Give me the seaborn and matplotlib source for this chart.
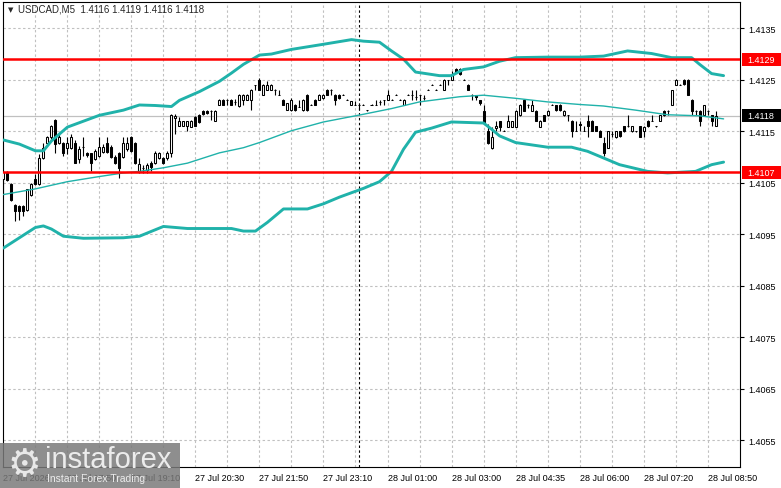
import numpy as np
import matplotlib
matplotlib.use("Agg")
import matplotlib.pyplot as plt
import matplotlib.transforms as mtransforms
from matplotlib.patches import Rectangle
import seaborn as sns

# USDCAD M5 candles, values in pips above BASE
BASE = 1.4100

opens = [5.8, 7.0, 4.7, 0.6, 0.5, 0.5, -0.4, 2.7, 5.8, 4.8,
         9.8, 12.8, 13.8, 17.1, 12.8, 12.8, 11.8, 11.8, 12.8, 9.7,
         12.0, 10.8, 10.8, 9.7, 10.2, 11.0, 12.8, 12.0, 10.0, 10.8,
         10.0, 11.5, 13.8, 12.8, 7.3, 7.8, 7.5, 8.9, 8.9, 9.8,
         9.8, 9.8, 10.8, 17.5, 16.1, 16.1, 16.1, 15.9, 17.8, 18.1,
         19.0, 19.0, 19.0, 17.0, 20.1, 21.1, 21.1, 21.1, 20.6, 19.9,
         21.1, 21.1, 21.1, 24.0, 25.0, 22.1, 23.1, 23.1, 23.1, 22.1,
         21.1, 19.2, 19.1, 20.1, 19.8, 19.1, 22.1, 20.1, 21.1, 21.1,
         21.4, 23.1, 23.1, 22.1, 22.1, 22.1, 21.1, 20.1, 20.1, 20.1,
         20.1, 19.1, 20.1, 20.1, 20.6, 21.1, 21.1, 21.1, 22.1, 21.1,
         20.1, 22.1, 22.1, 21.6, 22.1, 21.5, 23.1, 24.0, 23.1, 24.0,
         23.1, 25.0, 25.0, 27.0, 27.0, 25.0, 24.0, 22.1, 22.1, 21.1,
         19.0, 15.1, 11.8, 15.6, 16.9, 15.1, 15.9, 15.9, 15.9, 18.1,
         21.1, 20.1, 19.0, 19.0, 15.9, 18.1, 18.1, 20.1, 20.1, 20.1,
         18.1, 18.1, 17.0, 15.1, 16.5, 15.1, 17.0, 17.0, 16.0, 15.1,
         12.8, 11.8, 14.5, 13.8, 15.0, 16.0, 16.0, 15.0, 15.0, 16.0,
         15.0, 17.0, 17.0, 16.0, 17.0, 19.0, 19.0, 20.1, 24.0, 24.0,
         25.0, 25.0, 21.1, 19.0, 19.0, 18.1, 19.0, 18.1, 16.0]

highs = [7.2, 7.3, 5.0, 0.8, 0.7, 0.6, 3.8, 5.0, 6.6, 10.5,
         12.8, 14.0, 16.2, 17.3, 14.5, 13.0, 13.9, 14.4, 13.2, 12.1,
         13.8, 11.0, 10.8, 11.5, 13.8, 12.5, 13.8, 12.3, 10.3, 11.0,
         13.8, 13.8, 14.0, 13.0, 9.8, 8.5, 8.9, 9.2, 11.1, 11.0,
         10.0, 11.2, 18.3, 18.3, 17.8, 17.0, 17.0, 17.2, 18.0, 18.4,
         19.1, 19.2, 19.1, 19.1, 21.2, 21.2, 21.2, 21.2, 21.2, 22.3,
         22.2, 22.2, 23.2, 24.0, 25.3, 24.1, 24.7, 24.1, 23.2, 23.1,
         21.2, 20.5, 21.4, 20.2, 21.1, 21.2, 22.2, 20.2, 21.2, 22.2,
         22.2, 23.2, 23.2, 22.2, 22.2, 22.2, 21.2, 20.9, 20.9, 20.2,
         20.2, 19.2, 20.2, 21.1, 21.1, 21.1, 23.1, 21.2, 22.2, 21.2,
         21.2, 22.2, 23.1, 23.1, 22.1, 22.1, 23.2, 24.1, 23.2, 24.1,
         25.1, 25.0, 26.7, 27.2, 27.2, 25.1, 24.1, 22.2, 22.1, 21.1,
         20.1, 16.5, 15.8, 16.9, 17.0, 15.2, 18.1, 17.0, 19.1, 20.2,
         21.2, 20.2, 21.1, 19.1, 17.1, 18.2, 19.1, 20.2, 20.1, 20.2,
         19.2, 18.1, 17.1, 17.0, 17.0, 16.1, 18.1, 17.1, 16.1, 15.2,
         13.8, 15.1, 15.1, 15.1, 15.1, 16.1, 18.1, 16.1, 15.1, 16.1,
         16.1, 17.1, 18.1, 16.1, 18.1, 19.1, 19.1, 23.1, 25.1, 24.1,
         25.1, 25.1, 21.2, 19.1, 19.1, 20.1, 19.1, 18.2, 19.0]

lows = [2.6, 5.3, 1.4, -2.4, -2.3, -1.4, -0.5, 2.5, 4.5, 4.5,
        9.6, 12.5, 13.5, 10.8, 12.5, 10.2, 10.5, 11.5, 8.9, 8.9,
        10.2, 10.0, 7.2, 9.5, 10.0, 10.8, 10.8, 9.8, 8.7, 5.9,
        9.8, 11.2, 11.0, 8.7, 6.8, 6.8, 6.9, 7.2, 8.6, 9.6,
        8.7, 9.5, 10.0, 14.5, 16.0, 16.0, 15.1, 15.8, 16.0, 16.6,
        18.2, 18.3, 17.2, 16.9, 20.0, 20.0, 20.1, 20.0, 20.0, 19.8,
        20.1, 21.0, 19.1, 23.1, 23.0, 22.0, 23.0, 23.0, 22.1, 22.0,
        20.0, 19.1, 19.0, 19.0, 19.7, 19.0, 19.0, 20.0, 20.0, 21.0,
        21.3, 22.0, 22.1, 20.1, 21.3, 22.0, 21.0, 20.0, 20.0, 19.1,
        20.0, 19.0, 20.0, 20.0, 20.1, 20.1, 21.0, 21.0, 22.0, 21.0,
        20.0, 22.0, 21.1, 21.1, 20.1, 21.1, 23.0, 23.9, 23.0, 23.9,
        23.0, 24.0, 24.9, 26.3, 26.0, 24.9, 23.0, 21.1, 21.1, 20.0,
        16.5, 12.6, 11.6, 15.1, 15.1, 15.0, 15.8, 15.8, 15.8, 18.0,
        18.9, 19.5, 18.9, 16.9, 15.8, 16.9, 18.0, 20.0, 19.0, 19.0,
        18.0, 17.0, 13.8, 15.0, 15.1, 15.0, 13.8, 15.0, 15.0, 13.8,
        10.2, 11.7, 13.8, 13.7, 13.8, 14.9, 15.9, 14.9, 14.9, 13.8,
        13.8, 15.9, 16.9, 15.9, 16.9, 18.0, 18.1, 20.0, 23.9, 23.9,
        24.0, 22.0, 18.1, 18.1, 16.0, 18.0, 18.1, 16.0, 16.0]

closes = [7.0, 5.5, 1.6, -0.5, -0.5, -0.5, 3.7, 4.7, 4.7, 9.8,
          11.8, 13.9, 16.0, 12.5, 13.8, 10.8, 12.8, 13.8, 8.9, 11.5,
          12.0, 10.3, 8.9, 11.2, 12.0, 12.0, 11.0, 10.0, 8.9, 7.9,
          12.8, 12.8, 11.2, 8.9, 8.6, 7.8, 8.5, 8.0, 10.8, 10.8,
          8.9, 10.8, 18.1, 17.9, 16.9, 16.9, 16.9, 16.9, 16.1, 16.8,
          18.4, 18.5, 19.0, 19.0, 21.1, 20.1, 21.1, 20.1, 20.7, 22.1,
          22.1, 22.1, 23.1, 24.0, 23.1, 24.0, 24.0, 24.0, 23.1, 22.1,
          20.1, 20.4, 21.1, 19.1, 19.8, 21.1, 19.1, 20.1, 20.1, 22.1,
          22.1, 22.1, 23.1, 21.1, 21.5, 22.1, 21.1, 20.8, 20.1, 20.0,
          20.1, 19.1, 20.1, 20.1, 20.6, 21.1, 22.1, 21.1, 22.1, 21.1,
          21.1, 22.1, 22.1, 21.6, 22.1, 21.5, 23.1, 24.0, 23.1, 24.0,
          25.0, 25.0, 26.0, 26.4, 26.1, 25.0, 23.1, 22.1, 21.6, 20.5,
          16.8, 12.8, 13.8, 16.0, 15.9, 15.1, 16.9, 16.9, 19.0, 20.1,
          19.0, 20.1, 20.1, 17.0, 17.0, 17.0, 19.0, 20.1, 19.1, 19.1,
          19.0, 18.1, 15.1, 15.1, 16.3, 15.1, 16.0, 15.1, 15.1, 13.9,
          10.8, 15.0, 14.5, 15.0, 14.0, 15.0, 16.0, 16.0, 15.0, 13.9,
          15.9, 16.0, 17.0, 16.0, 18.1, 18.1, 19.0, 23.1, 25.0, 24.0,
          24.1, 22.1, 19.0, 19.0, 17.0, 20.1, 19.0, 17.0, 18.0]

# Bollinger bands read at sample bars (pips above BASE)
upper_bar = [0, 4, 8, 10, 12, 16, 24, 30, 34, 38, 42, 44, 49, 54, 57, 60, 64, 67, 72, 80,
             87, 90, 94, 97, 100, 103, 109, 112, 115, 120, 124, 128, 136, 144, 150, 156,
             162, 167, 172, 174, 177, 180]
upper_pips = [13.3, 12.5, 11.2, 11.2, 13.1, 15.8, 18.1, 19.1, 20.1, 20.0, 19.8, 21.0, 22.7,
              24.7, 26.3, 28.0, 29.8, 30.0, 30.9, 31.9, 32.8, 32.5, 32.3, 30.6, 29.0, 26.5,
              25.8, 25.8, 27.0, 27.5, 28.6, 29.3, 29.4, 29.4, 29.6, 30.6, 30.1, 29.3, 29.3,
              28.0, 26.2, 25.8]
mid_bar = [0, 8, 16, 24, 30, 34, 40, 46, 54, 60, 64, 72, 80, 90, 97, 104, 114, 120, 128,
           136, 144, 150, 158, 166, 174, 180]
mid_pips = [2.7, 3.8, 5.2, 6.2, 6.9, 7.2, 7.9, 8.8, 10.8, 11.8, 12.8, 15.1, 16.8, 18.3, 19.4,
            20.7, 21.7, 22.0, 21.4, 20.7, 20.2, 19.9, 19.1, 18.2, 18.0, 17.4]
lower_bar = [0, 4, 8, 10, 12, 15, 20, 30, 34, 40, 46, 54, 57, 60, 63, 66, 70, 76, 80, 84,
             90, 94, 97, 100, 103, 107, 112, 120, 122, 124, 128, 136, 142, 146, 150, 154,
             161, 166, 173, 177, 180]
lower_pips = [-7.7, -5.7, -3.7, -3.4, -4.0, -5.4, -5.8, -5.7, -5.4, -3.5, -3.9, -3.9, -3.9,
              -4.4, -4.4, -2.7, -0.1, -0.1, 0.9, 2.2, 3.9, 5.2, 7.2, 11.5, 14.8, 15.6, 16.8,
              16.6, 15.4, 14.1, 12.8, 11.9, 11.9, 11.1, 9.8, 8.5, 7.2, 6.9, 7.2, 8.5, 9.0]

levels = [1.4129, 1.4107]
last_price = 1.4118
price_ticks = [1.4055, 1.4065, 1.4075, 1.4085, 1.4095, 1.4105, 1.4115, 1.4125, 1.4135]
time_labels = ["27 Jul 2026", "27 Jul 17:50", "27 Jul 19:10", "27 Jul 20:30",
               "27 Jul 21:50", "27 Jul 23:10", "28 Jul 01:00", "28 Jul 03:00",
               "28 Jul 04:35", "28 Jul 06:00", "28 Jul 07:20", "28 Jul 08:50"]
day_break = 89
header = "USDCAD,M5  1.4116 1.4119 1.4116 1.4118"

sns.set_style("white")
plt.rcParams['font.family'] = ['Liberation Sans', 'DejaVu Sans']

W, H = 781, 489
fig = plt.figure(figsize=(W / 100, H / 100), dpi=100)
ax_h = 465
ax = fig.add_axes([3 / W, 21 / H, 737 / W, ax_h / H])
ymin, ymax = 1.404976, 1.414011
ax.set_xlim(-0.1, 184.1)
ax.set_ylim(ymin, ymax)

grid_c = '#c0c0c0'
dash = (0, (2.2, 2.2))
for p in price_ticks:
    ax.axhline(p, color=grid_c, lw=0.8, ls=dash, zorder=0)
for b in range(8, 184, 8):
    ax.axvline(b, color=grid_c, lw=0.8, ls=dash, zorder=0)
ax.axhline(last_price, color=grid_c, lw=0.9, zorder=1)
ax.axvline(day_break, color='black', lw=0.8, ls=dash, zorder=1)

# candles
px = lambda v: BASE + np.array(v) / 1e4
o, h, l, c = px(opens), px(highs), px(lows), px(closes)
x = np.arange(len(o))
ax.vlines(x, l, h, color='black', lw=0.8, zorder=3)
up = c >= o
ax.bar(x[up], (c - o)[up], bottom=o[up], width=0.5, facecolor='white',
       edgecolor='black', lw=0.75, zorder=4)
ax.bar(x[~up], (o - c)[~up], bottom=c[~up], width=0.5, facecolor='black',
       edgecolor='black', lw=0.75, zorder=4)

# bands
teal = '#20b2aa'
sns.lineplot(x=upper_bar, y=px(upper_pips), ax=ax, color=teal, lw=2.1, zorder=5)
sns.lineplot(x=mid_bar, y=px(mid_pips), ax=ax, color=teal, lw=1.0, zorder=5)
sns.lineplot(x=lower_bar, y=px(lower_pips), ax=ax, color=teal, lw=2.1, zorder=5)

for lv in levels:
    ax.axhline(lv, color='#ff0000', lw=1.8, zorder=6)

# axes styling
for s in ax.spines.values():
    s.set_color('black')
    s.set_linewidth(0.8)
ax.yaxis.tick_right()
ax.set_yticks(price_ticks)
ax.set_yticklabels([f"{p:.4f}" for p in price_ticks])
ax.set_xticks(list(range(0, 177, 16)))
ax.set_xticklabels(time_labels, ha='left')
ax.tick_params(axis='y', length=3, width=0.8, pad=3, labelsize=6.5, colors='black')
ax.tick_params(axis='x', length=3, width=0.8, pad=1.5, labelsize=6.5, colors='black')
ax.set_xlabel('')
ax.set_ylabel('')

# price tags on the right scale
tr = mtransforms.blended_transform_factory(fig.transFigure, ax.transData)
half = 6.5 * (ymax - ymin) / ax_h
for val, col in [(levels[0], '#ff0000'), (levels[1], '#ff0000'), (last_price, 'black')]:
    fig.patches.append(Rectangle((742 / W, val - half), 39 / W, 2 * half, transform=tr,
                                 facecolor=col, edgecolor='none', zorder=10))
    fig.text(747 / W, val, f"{val:.4f}", transform=tr, color='white', fontsize=6.5,
             va='center', ha='left', zorder=11)

# header
fig.text(8 / W, 1 - 10 / H, "\u25bc", fontsize=5, va='center', ha='left',
         family='DejaVu Sans')
fig.text(18 / W, 1 - 10 / H, header, fontsize=7, va='center', ha='left')

# watermark
fig.patches.append(Rectangle((0, 0), 180 / W, 45 / H, transform=fig.transFigure,
                             facecolor='#7a7a7a', alpha=0.85, edgecolor='none', zorder=20))
fig.text(24 / W, 1 - 466 / H, "\u2699", fontsize=27, color='#e8e8e8', ha='center',
         va='center', family='DejaVu Sans', zorder=21)
fig.text(45 / W, 1 - 460 / H, "instaforex", fontsize=21, color='#ececec', ha='left',
         va='center', zorder=21)
fig.text(47 / W, 1 - 479 / H, "Instant Forex Trading", fontsize=7.5, color='#ececec',
         ha='left', va='center', zorder=21)

fig.savefig("out.png", dpi=100)
